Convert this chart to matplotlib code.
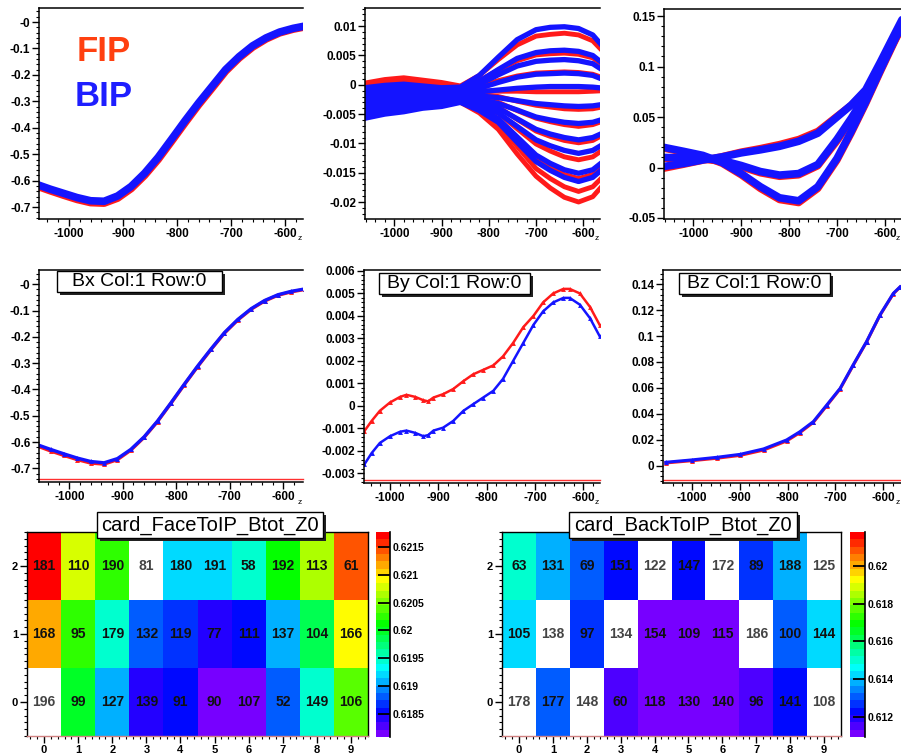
import numpy as np
import matplotlib
matplotlib.use("Agg")
import matplotlib.pyplot as plt
from matplotlib.colors import ListedColormap, BoundaryNorm, hsv_to_rgb
from matplotlib.patches import Rectangle
from matplotlib.ticker import MultipleLocator
from matplotlib.colorbar import Colorbar

plt.rcParams['font.family'] = ['Liberation Sans', 'DejaVu Sans']

# ---------------- data ----------------
Z_TICKS = [-1000, -900, -800, -700, -600]
Z_TICK_LABELS = ['-1000', '-900', '-800', '-700', '-600']

# Bx, all cards (top-left)
Z1 = [-1060, -1035, -1010, -985, -960, -935, -910, -885, -860, -835, -810,
      -785, -760, -735, -710, -685, -660, -635, -610, -585, -560]
BX_ALL_BIP = [-0.614, -0.632, -0.648, -0.664, -0.676, -0.678, -0.658, -0.622, -0.572, -0.512, -0.443,
              -0.373, -0.306, -0.243, -0.180, -0.131, -0.090, -0.060, -0.038, -0.024, -0.014]
BX_ALL_FIP = [-0.620, -0.638, -0.655, -0.671, -0.683, -0.685, -0.666, -0.630, -0.580, -0.520, -0.451,
              -0.381, -0.313, -0.250, -0.186, -0.136, -0.095, -0.064, -0.041, -0.027, -0.017]

# By, all cards (top-middle)
Z2 = [-1062, -1020, -980, -940, -900, -860, -820, -780, -740, -700, -670, -640, -610, -580, -555]
BY_ALL_FIP = [
    [0.0003, 0.0009, 0.0012, 0.0008, 0.0004, -0.0002, 0.0016, 0.0043, 0.0068, 0.0083, 0.0086, 0.0088, 0.0085, 0.0075, 0.0054],
    [-0.0002, 0.0004, 0.0007, 0.0004, 0.0000, -0.0005, 0.0007, 0.0025, 0.0041, 0.0051, 0.0053, 0.0054, 0.0052, 0.0046, 0.0032],
    [-0.0007, -0.0001, 0.0002, 0.0000, -0.0003, -0.0008, -0.0002, 0.0007, 0.0015, 0.0020, 0.0021, 0.0022, 0.0021, 0.0018, 0.0011],
    [-0.0011, -0.0006, -0.0003, -0.0005, -0.0007, -0.0010, -0.0010, -0.0011, -0.0011, -0.0012, -0.0012, -0.0012, -0.0012, -0.0011, -0.0010],
    [-0.0016, -0.0011, -0.0008, -0.0009, -0.0010, -0.0013, -0.0016, -0.0020, -0.0028, -0.0035, -0.0038, -0.0041, -0.0042, -0.0041, -0.0037],
    [-0.0021, -0.0016, -0.0013, -0.0013, -0.0014, -0.0016, -0.0022, -0.0030, -0.0044, -0.0057, -0.0063, -0.0068, -0.0071, -0.0068, -0.0061],
    [-0.0026, -0.0021, -0.0017, -0.0017, -0.0018, -0.0018, -0.0026, -0.0038, -0.0059, -0.0079, -0.0088, -0.0095, -0.0099, -0.0095, -0.0084],
    [-0.0031, -0.0026, -0.0022, -0.0021, -0.0021, -0.0021, -0.0032, -0.0048, -0.0075, -0.0101, -0.0113, -0.0123, -0.0128, -0.0123, -0.0109],
    [-0.0035, -0.0031, -0.0027, -0.0026, -0.0025, -0.0024, -0.0038, -0.0058, -0.0092, -0.0126, -0.0141, -0.0153, -0.0160, -0.0153, -0.0136],
    [-0.0040, -0.0036, -0.0032, -0.0030, -0.0028, -0.0027, -0.0043, -0.0066, -0.0105, -0.0143, -0.0160, -0.0174, -0.0182, -0.0174, -0.0154],
    [-0.0045, -0.0041, -0.0037, -0.0034, -0.0032, -0.0030, -0.0048, -0.0076, -0.0118, -0.0156, -0.0176, -0.0192, -0.0200, -0.0191, -0.0168],
]
BY_ALL_BIP = [
    [-0.0005, -0.0001, 0.0001, -0.0002, -0.0005, -0.0004, 0.0016, 0.0047, 0.0077, 0.0094, 0.0098, 0.0099, 0.0096, 0.0085, 0.0062],
    [-0.0010, -0.0006, -0.0004, -0.0006, -0.0008, -0.0007, 0.0006, 0.0026, 0.0045, 0.0055, 0.0058, 0.0059, 0.0057, 0.0050, 0.0034],
    [-0.0015, -0.0011, -0.0008, -0.0010, -0.0011, -0.0009, 0.0001, 0.0017, 0.0032, 0.0040, 0.0042, 0.0043, 0.0041, 0.0036, 0.0023],
    [-0.0021, -0.0016, -0.0013, -0.0013, -0.0015, -0.0012, -0.0006, 0.0004, 0.0013, 0.0018, 0.0019, 0.0020, 0.0019, 0.0016, 0.0008],
    [-0.0026, -0.0021, -0.0018, -0.0017, -0.0018, -0.0014, -0.0012, -0.0009, -0.0006, -0.0004, -0.0003, -0.0003, -0.0003, -0.0004, -0.0006],
    [-0.0031, -0.0026, -0.0023, -0.0021, -0.0021, -0.0017, -0.0019, -0.0022, -0.0027, -0.0032, -0.0034, -0.0036, -0.0037, -0.0036, -0.0033],
    [-0.0036, -0.0030, -0.0027, -0.0025, -0.0024, -0.0020, -0.0025, -0.0032, -0.0043, -0.0055, -0.0060, -0.0064, -0.0066, -0.0064, -0.0058],
    [-0.0041, -0.0035, -0.0032, -0.0029, -0.0027, -0.0022, -0.0029, -0.0040, -0.0058, -0.0076, -0.0084, -0.0090, -0.0094, -0.0090, -0.0081],
    [-0.0047, -0.0040, -0.0037, -0.0032, -0.0031, -0.0025, -0.0034, -0.0048, -0.0071, -0.0094, -0.0104, -0.0112, -0.0117, -0.0112, -0.0100],
    [-0.0052, -0.0045, -0.0041, -0.0036, -0.0034, -0.0027, -0.0039, -0.0058, -0.0089, -0.0120, -0.0134, -0.0145, -0.0151, -0.0145, -0.0129],
    [-0.0057, -0.0050, -0.0046, -0.0040, -0.0037, -0.0030, -0.0044, -0.0064, -0.0098, -0.0131, -0.0146, -0.0158, -0.0165, -0.0158, -0.0141],
]

# Bz, all cards (top-right)
Z3 = [-1062, -1020, -980, -940, -900, -860, -820, -780, -740, -700, -670, -640, -610, -580, -555]
BZ_ALL_BIP = [
    [0.001, 0.004, 0.0075, 0.0105, 0.0145, 0.0175, 0.021, 0.026, 0.034, 0.050, 0.062, 0.077, 0.104, 0.132, 0.155],
    [0.010, 0.0095, 0.009, 0.007, 0.002, -0.004, -0.0075, -0.006, 0.003, 0.028, 0.049, 0.072, 0.099, 0.127, 0.150],
    [0.020, 0.016, 0.012, 0.005, -0.006, -0.019, -0.030, -0.033, -0.019, 0.009, 0.036, 0.065, 0.096, 0.126, 0.150],
]
BZ_ALL_FIP = [
    [-0.001, 0.003, 0.007, 0.011, 0.0155, 0.019, 0.023, 0.028, 0.036, 0.051, 0.062, 0.076, 0.102, 0.130, 0.153],
    [0.009, 0.0085, 0.008, 0.006, 0.0005, -0.0055, -0.009, -0.0075, 0.0015, 0.026, 0.047, 0.070, 0.097, 0.125, 0.148],
    [0.019, 0.015, 0.011, 0.004, -0.0075, -0.021, -0.032, -0.035, -0.021, 0.007, 0.034, 0.063, 0.094, 0.124, 0.148],
]

# Bx Col:1 Row:0
BX_C1R0_BIP = [-0.610, -0.628, -0.645, -0.661, -0.674, -0.679, -0.663, -0.628, -0.580, -0.520, -0.451,
               -0.380, -0.311, -0.246, -0.184, -0.134, -0.093, -0.062, -0.040, -0.027, -0.018]
BX_C1R0_FIP = [-0.615, -0.634, -0.651, -0.667, -0.680, -0.684, -0.667, -0.631, -0.582, -0.522, -0.453,
               -0.382, -0.313, -0.248, -0.186, -0.136, -0.095, -0.064, -0.042, -0.029, -0.020]

# By Col:1 Row:0
Z5 = [-1053, -1038, -1021, -1000, -979, -966, -948, -931, -921, -910, -890, -869, -848, -828,
      -807, -786, -766, -745, -724, -703, -683, -662, -641, -628, -607, -586, -566]
BY_C1R0_FIP = [-0.00112, -0.00067, -0.00022, 0.00015, 0.00040, 0.00049, 0.00040, 0.00025, 0.00020, 0.00037,
               0.00052, 0.00075, 0.00110, 0.00140, 0.00160, 0.00180, 0.00220, 0.00280, 0.00350, 0.00400,
               0.00460, 0.00500, 0.00520, 0.00520, 0.00500, 0.00440, 0.00360]
BY_C1R0_BIP = [-0.00260, -0.00210, -0.00165, -0.00135, -0.00115, -0.00110, -0.00120, -0.00135, -0.00130, -0.00110,
               -0.00097, -0.00067, -0.00022, 0.00007, 0.00037, 0.00067, 0.00120, 0.00200, 0.00280, 0.00360,
               0.00420, 0.00460, 0.00480, 0.00480, 0.00450, 0.00390, 0.00310]

# Bz Col:1 Row:0
Z6 = [-1054, -1000, -948, -899, -850, -802, -774, -746, -718, -690, -663, -635, -607, -579, -565]
BZ_C1R0_BIP = [0.0026, 0.0044, 0.0064, 0.0087, 0.0129, 0.0198, 0.0262, 0.0340, 0.0468, 0.0597, 0.0777, 0.0957, 0.1163, 0.1330, 0.1380]
BZ_C1R0_FIP = [0.0021, 0.0038, 0.0057, 0.0079, 0.0120, 0.0190, 0.0255, 0.0334, 0.0463, 0.0593, 0.0773, 0.0954, 0.1160, 0.1327, 0.1378]

# Heat maps (rows 0,1,2 bottom to top; columns 0..9)
HM_COLS = [0, 1, 2, 3, 4, 5, 6, 7, 8, 9]
HM_ROWS = [0, 1, 2]
NAN = float('nan')
FACE_IDS = [[196, 99, 127, 139, 91, 90, 107, 52, 149, 106],
            [168, 95, 179, 132, 119, 77, 111, 137, 104, 166],
            [181, 110, 190, 81, 180, 191, 58, 192, 113, 61]]
FACE_BTOT = [[NAN, 0.62000, 0.61904, 0.61838, 0.61860, 0.61819, 0.61819, 0.61882, 0.61948, 0.62040],
             [0.62122, 0.62029, 0.61948, 0.61878, 0.61863, 0.61845, 0.61860, 0.61908, 0.61985, 0.62092],
             [0.62166, 0.62081, 0.62029, NAN, 0.61926, 0.61926, 0.61948, 0.62018, 0.62059, 0.62148]]
FACE_RANGE = (0.61808, 0.62177)
FACE_CB_TICKS = [0.6185, 0.619, 0.6195, 0.62, 0.6205, 0.621, 0.6215]
FACE_CB_LABELS = ['0.6185', '0.619', '0.6195', '0.62', '0.6205', '0.621', '0.6215']

BACK_IDS = [[178, 177, 148, 60, 118, 130, 140, 96, 141, 108],
            [105, 138, 97, 134, 154, 109, 115, 186, 100, 144],
            [63, 131, 69, 151, 122, 147, 172, 89, 188, 125]]
BACK_BTOT = [[NAN, 0.61322, NAN, 0.61170, 0.61127, 0.61127, 0.61127, 0.61170, 0.61235, NAN],
             [0.61431, NAN, 0.61257, NAN, 0.61127, 0.61127, 0.61127, NAN, 0.61300, 0.61442],
             [0.61507, 0.61387, 0.61322, 0.61246, NAN, 0.61246, NAN, 0.61279, 0.61387, NAN]]
BACK_RANGE = (0.61094, 0.62180)
BACK_CB_TICKS = [0.612, 0.614, 0.616, 0.618, 0.62]
BACK_CB_LABELS = ['0.612', '0.614', '0.616', '0.618', '0.62']

# ---------------- figure ----------------
W, H = 901, 755
fig = plt.figure(figsize=(W / 100, H / 100), dpi=100)
fig.patch.set_facecolor('white')

RED = '#ff1a1a'
BLUE = '#1414ff'


def px_axes(l, t, r, b):
    return fig.add_axes([l / W, 1 - b / H, (r - l) / W, (b - t) / H])


def xlim_from(p0, s, l, r):
    return (-1000 + (l - p0) / s * 100, -1000 + (r - p0) / s * 100)


def curve_axes(l, t, r, b, p0, s, ylim, yticks, ylabels, yminor):
    ax = px_axes(l, t, r, b)
    ax.set_xlim(*xlim_from(p0, s, l, r))
    ax.set_ylim(*ylim)
    ax.set_xticks(Z_TICKS)
    ax.set_xticklabels(Z_TICK_LABELS)
    ax.xaxis.set_minor_locator(MultipleLocator(20))
    ax.set_yticks(yticks)
    ax.set_yticklabels(ylabels)
    ax.yaxis.set_minor_locator(MultipleLocator(yminor))
    ax.spines['right'].set_visible(False)
    for sp in ['left', 'bottom', 'top']:
        ax.spines[sp].set_linewidth(1.1)
    ax.tick_params(which='major', direction='out', length=5, width=1.0, pad=1.2, labelsize=8.5)
    ax.tick_params(which='minor', direction='out', length=2.5, width=0.8)
    for lab in ax.get_xticklabels() + ax.get_yticklabels():
        lab.set_fontweight('bold')
    fig.text((r - 3) / W, 1 - (b + 20) / H, 'z', fontsize=6, ha='center', va='center')
    return ax


def title_box(l, t, r, b, text, fs):
    fig.add_artist(Rectangle(((l + 3) / W, 1 - (b + 3) / H), (r - l) / W, (b - t) / H,
                             transform=fig.transFigure, fc='#222222', ec='none', zorder=10))
    fig.add_artist(Rectangle((l / W, 1 - b / H), (r - l) / W, (b - t) / H,
                             transform=fig.transFigure, fc='white', ec='black', lw=1.0, zorder=11))
    fig.text((l + r) / 2 / W, 1 - (t + b) / 2 / H, text, fontsize=fs, ha='center', va='center', zorder=12)


def bottom_red_line(ax, frac):
    ax.plot([0, 1], [frac, frac], transform=ax.transAxes, color='#ff3030', lw=1.0, clip_on=False, zorder=1)


# ---- top row ----
ax1 = curve_axes(39, 8, 303, 219, 69, 54, (-0.745, 0.053),
                 [0, -0.1, -0.2, -0.3, -0.4, -0.5, -0.6, -0.7],
                 ['-0', '-0.1', '-0.2', '-0.3', '-0.4', '-0.5', '-0.6', '-0.7'], 0.02)
ax1.plot(Z1, BX_ALL_FIP, color=RED, lw=5.5, solid_capstyle='round')
ax1.plot(Z1, BX_ALL_BIP, color=BLUE, lw=5.5, solid_capstyle='round')

ax2 = curve_axes(365, 8, 600, 219, 394.3, 47.25, (-0.0229, 0.0131),
                 [0.01, 0.005, 0, -0.005, -0.01, -0.015, -0.02],
                 ['0.01', '0.005', '0', '-0.005', '-0.01', '-0.015', '-0.02'], 0.001)
for c in BY_ALL_FIP:
    ax2.plot(Z2, c, color=RED, lw=3.5, solid_capstyle='round')
for c in BY_ALL_BIP:
    ax2.plot(Z2, c, color=BLUE, lw=3.8, solid_capstyle='round')

ax3 = curve_axes(664, 9, 901, 219, 693.3, 47.9, (-0.051, 0.157),
                 [0.15, 0.1, 0.05, 0, -0.05],
                 ['0.15', '0.1', '0.05', '0', '-0.05'], 0.01)
for c in BZ_ALL_FIP:
    ax3.plot(Z3, c, color=RED, lw=5.0, solid_capstyle='round')
for c in BZ_ALL_BIP:
    ax3.plot(Z3, c, color=BLUE, lw=5.5, solid_capstyle='round')

fig.text(77 / W, 1 - 61 / H, 'FIP', color='#ff4010', fontsize=25, fontweight='bold', va='baseline')
fig.text(75 / W, 1 - 106 / H, 'BIP', color='#1e1eff', fontsize=25, fontweight='bold', va='baseline')

# ---- middle row ----
ax4 = curve_axes(39, 270, 303, 482, 69.3, 53.5, (-0.752, 0.054),
                 [0, -0.1, -0.2, -0.3, -0.4, -0.5, -0.6, -0.7],
                 ['-0', '-0.1', '-0.2', '-0.3', '-0.4', '-0.5', '-0.6', '-0.7'], 0.02)
bottom_red_line(ax4, 0.014)
ax4.plot(Z1, BX_C1R0_FIP, color=RED, lw=2.4, marker='^', ms=3.5, mec='none')
ax4.plot(Z1, BX_C1R0_BIP, color=BLUE, lw=2.4, marker='^', ms=3.5, mec='none')

ax5 = curve_axes(364, 270, 600, 483, 390, 48.3, (-0.00343, 0.00604),
                 [0.006, 0.005, 0.004, 0.003, 0.002, 0.001, 0, -0.001, -0.002, -0.003],
                 ['0.006', '0.005', '0.004', '0.003', '0.002', '0.001', '0', '-0.001', '-0.002', '-0.003'],
                 0.0002)
bottom_red_line(ax5, 0.014)
ax5.plot(Z5, BY_C1R0_FIP, color=RED, lw=1.8, marker='^', ms=3.5, mec='none')
ax5.plot(Z5, BY_C1R0_BIP, color=BLUE, lw=1.8, marker='^', ms=3.5, mec='none')

ax6 = curve_axes(663, 270, 901, 483, 691.7, 47.9, (-0.0134, 0.151),
                 [0.14, 0.12, 0.1, 0.08, 0.06, 0.04, 0.02, 0],
                 ['0.14', '0.12', '0.1', '0.08', '0.06', '0.04', '0.02', '0'], 0.004)
bottom_red_line(ax6, 0.014)
ax6.plot(Z6, BZ_C1R0_FIP, color=RED, lw=2.2, marker='^', ms=3.5, mec='none')
ax6.plot(Z6, BZ_C1R0_BIP, color=BLUE, lw=2.2, marker='^', ms=3.5, mec='none')

title_box(57, 271, 222, 292, 'Bx Col:1 Row:0', 14)
title_box(379, 273, 530, 294, 'By Col:1 Row:0', 14)
title_box(679, 273, 830, 294, 'Bz Col:1 Row:0', 14)

# ---- bottom row: heat maps ----
NCONT = 28
hues = np.linspace(268, 0, NCONT) / 360.0
pal = hsv_to_rgb(np.stack([hues, np.ones(NCONT), np.ones(NCONT)], axis=1))
cmap = ListedColormap(pal)
cmap.set_bad('white')


def heatmap(l, t, r, b, cl, cr, ids, vals, vrange, cbt, cbl, title, tl, tr):
    ax = px_axes(l, t, r, b)
    norm = BoundaryNorm(np.linspace(vrange[0], vrange[1], NCONT + 1), NCONT)
    data = np.ma.masked_invalid(np.array(vals, dtype=float))
    xe = np.arange(len(HM_COLS) + 1) - 0.5
    ye = np.arange(len(HM_ROWS) + 1) - 0.5
    ax.pcolormesh(xe, ye, data, cmap=cmap, norm=norm, shading='flat')
    for i, row in enumerate(HM_ROWS):
        for j, col in enumerate(HM_COLS):
            empty = np.isnan(vals[i][j])
            ax.text(col, row, str(ids[i][j]), ha='center', va='center', fontsize=10,
                    fontweight='bold', color='#444444' if empty else '#111111')
    ax.set_xlim(-0.5, 9.5)
    ax.set_ylim(-0.5, 2.5)
    ax.set_xticks(HM_COLS)
    ax.set_yticks(HM_ROWS)
    ax.xaxis.set_minor_locator(MultipleLocator(0.2))
    ax.yaxis.set_minor_locator(MultipleLocator(0.1))
    ax.tick_params(which='major', direction='out', length=5, width=1.0, pad=1.5, labelsize=8)
    ax.tick_params(which='minor', direction='out', length=2.5, width=0.8)
    for lab in ax.get_xticklabels() + ax.get_yticklabels():
        lab.set_fontweight('bold')
    for sp in ax.spines.values():
        sp.set_linewidth(1.0)
    ax.spines['bottom'].set_color('#d08080')

    cax = px_axes(cl, 532, cr, 737)
    cb = Colorbar(cax, cmap=cmap, norm=norm, orientation='vertical')
    cb.outline.set_visible(False)
    cb.set_ticks(cbt, labels=cbl)
    cb.minorticks_off()
    cax.tick_params(direction='in', length=8.5, width=1.3, labelsize=7.5, pad=2, right=True, left=False)
    for lab in cax.get_yticklabels():
        lab.set_fontweight('bold')
    cax.plot([1, 1], [0, 1], transform=cax.transAxes, color='black', lw=1.2, clip_on=False)

    title_box(tl, 512, tr, 538, title, 14.5)
    return ax


heatmap(27, 532, 368, 736, 376, 390, FACE_IDS, FACE_BTOT, FACE_RANGE,
        FACE_CB_TICKS, FACE_CB_LABELS, 'card_FaceToIP_Btot_Z0', 97, 323)
heatmap(502, 532, 841, 736, 850, 865, BACK_IDS, BACK_BTOT, BACK_RANGE,
        BACK_CB_TICKS, BACK_CB_LABELS, 'card_BackToIP_Btot_Z0', 569, 797)

fig.savefig('out.png', dpi=100)
